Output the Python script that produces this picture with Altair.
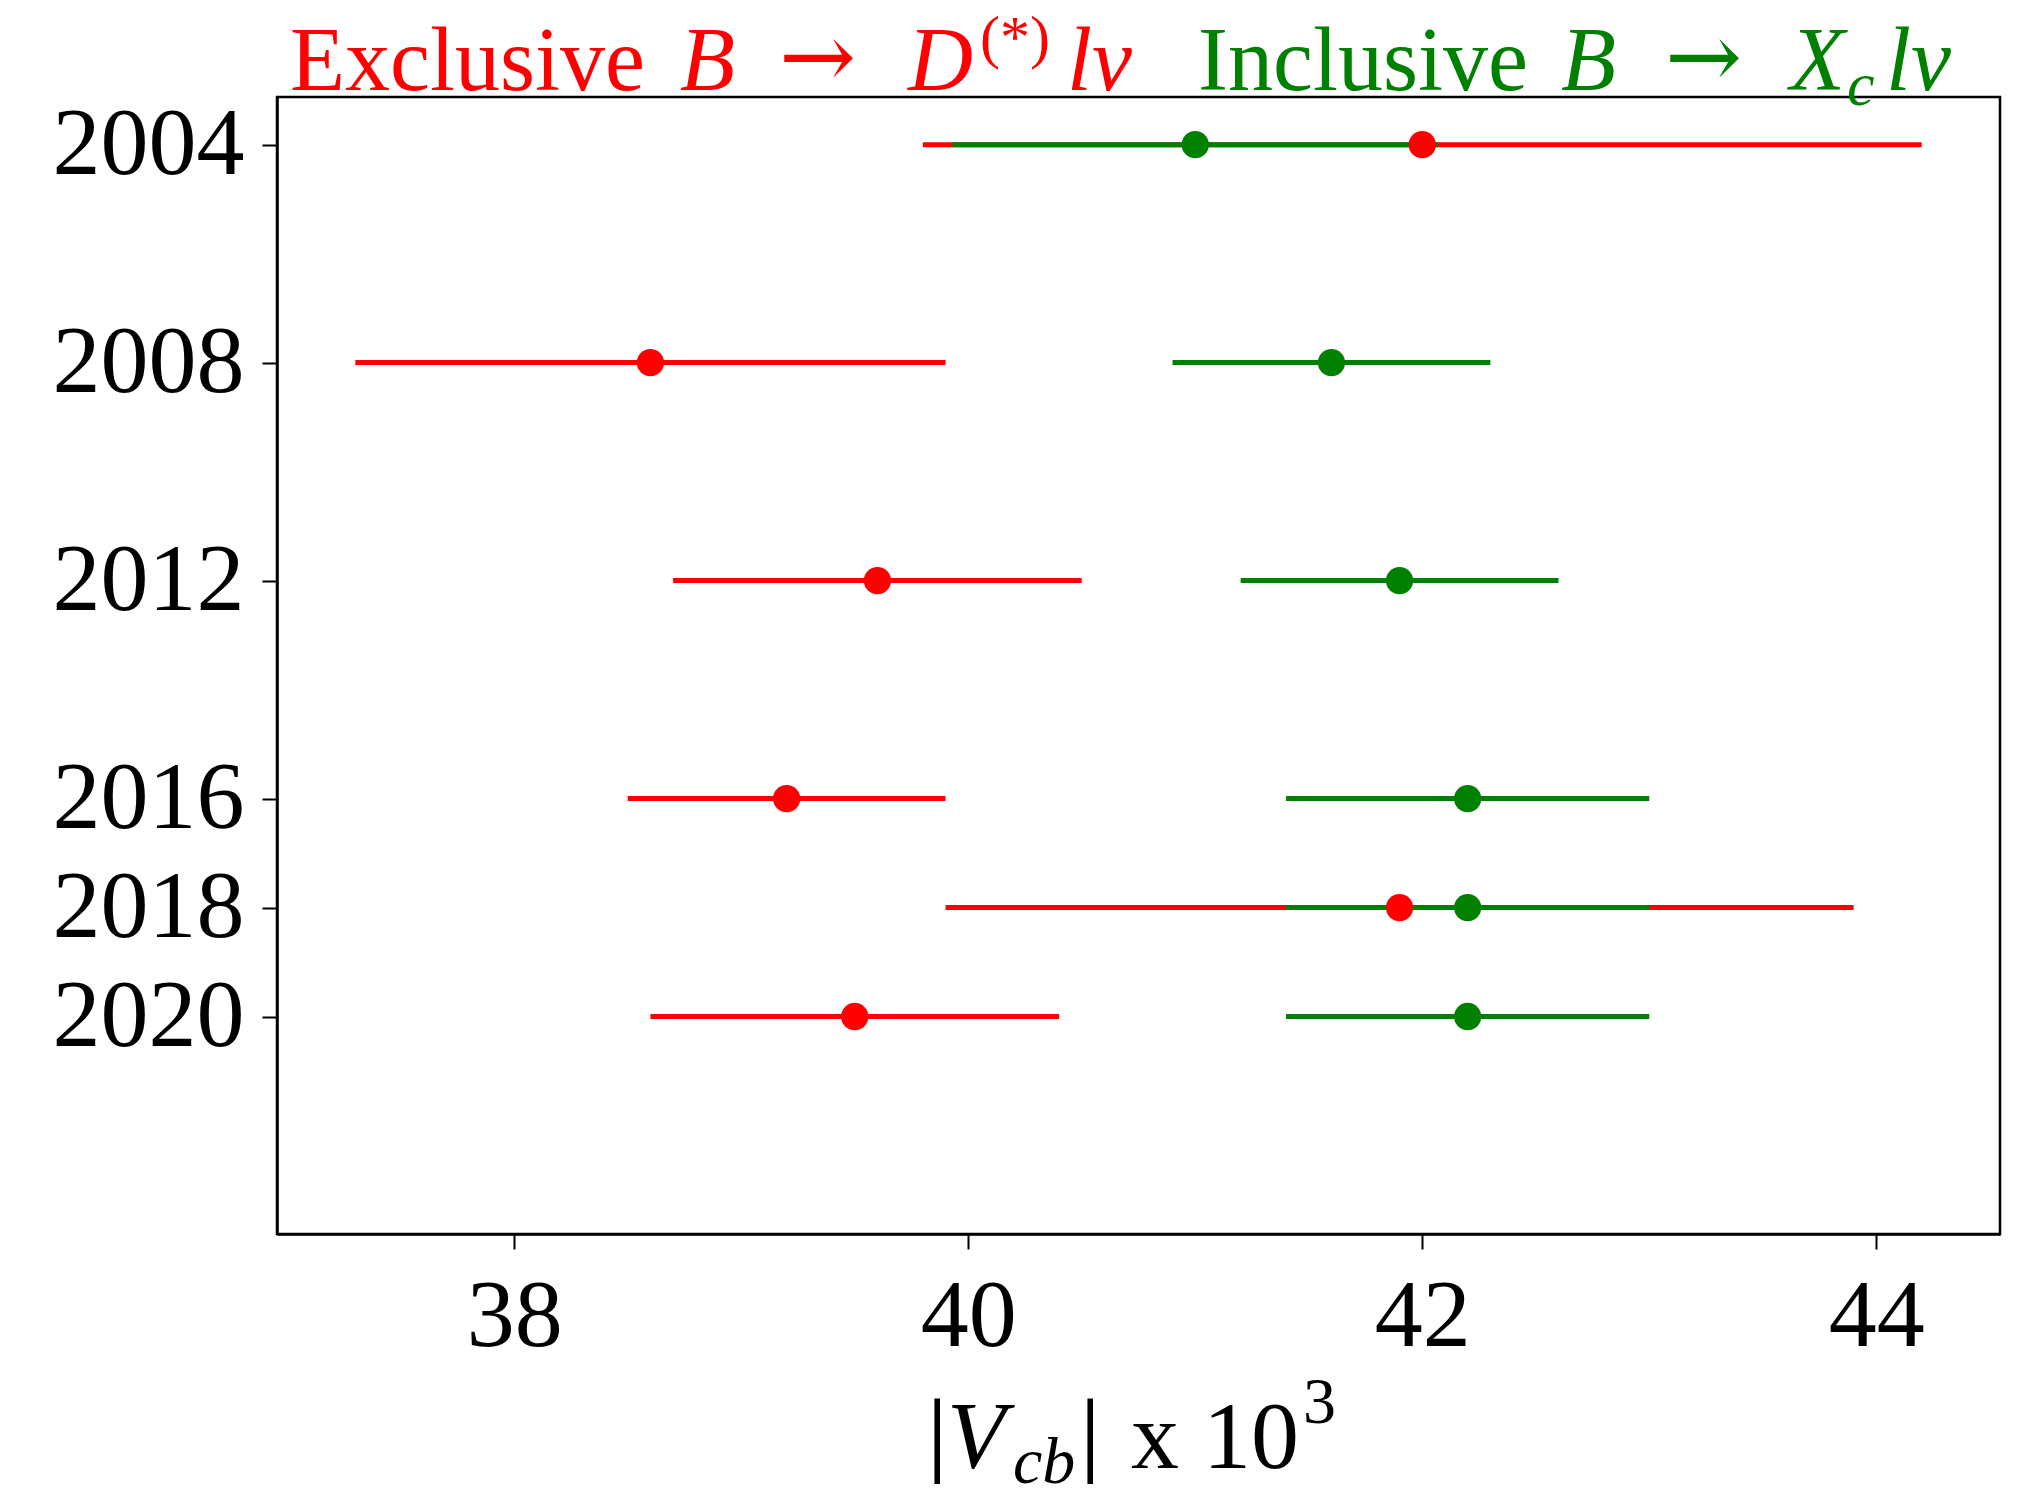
import altair as alt
import pandas as pd

# ---- data ----
years = [2004, 2008, 2012, 2016, 2018, 2020]
excl_val = [42.0, 38.6, 39.6, 39.2, 41.9, 39.5]
excl_lo = [39.8, 37.3, 38.7, 38.5, 39.9, 38.6]
excl_hi = [44.2, 39.9, 40.5, 39.9, 43.9, 40.4]
incl_val = [41.0, 41.6, 41.9, 42.2, 42.2, 42.2]
incl_lo = [39.93, 40.9, 41.2, 41.4, 41.4, 41.4]
incl_hi = [42.07, 42.3, 42.6, 43.0, 43.0, 43.0]
x_ticks = [38, 40, 42, 44]

RED = "#ff0000"
GREEN = "#008000"
FONT = "Liberation Serif"
ARROW_FONT = "DejaVu Serif"

excl = pd.DataFrame({"year": years, "v": excl_val, "lo": excl_lo, "hi": excl_hi})
incl = pd.DataFrame({"year": years, "v": incl_val, "lo": incl_lo, "hi": incl_hi})

xscale = alt.Scale(domain=[36.955, 44.545], nice=False, zero=False)
yscale = alt.Scale(domain=[2003.126, 2023.99], nice=False, zero=False, reverse=True)

xaxis = alt.Axis(values=x_ticks, format="d", title=None, labelFlush=False, labelPadding=20)
yaxis = alt.Axis(values=years, format="d", title=None, labelPadding=18, labelLimit=0)


def rules(df, color):
    return alt.Chart(df).mark_rule(color=color, strokeWidth=5).encode(
        x=alt.X("lo:Q", scale=xscale, axis=xaxis),
        x2="hi:Q",
        y=alt.Y("year:Q", scale=yscale, axis=yaxis),
    )


def points(df, color):
    return alt.Chart(df).mark_circle(color=color, size=750, opacity=1).encode(
        x=alt.X("v:Q", scale=xscale, axis=xaxis),
        y=alt.Y("year:Q", scale=yscale, axis=yaxis),
    )


# ---- title and axis-title text pieces (text, x, y, size, italic, color, font) ----
title_parts = [
    ("Exclusive", 13, -7, 90, False, RED, FONT),
    ("B", 403, -7, 90, True, RED, FONT),
    ("→", 502, -9, 92, False, RED, ARROW_FONT),
    ("D", 631, -7, 90, True, RED, FONT),
    ("(*)", 703, -40, 60, False, RED, FONT),
    ("lν", 790, -7, 90, True, RED, FONT),
    ("Inclusive", 921, -7, 90, False, GREEN, FONT),
    ("B", 1284, -7, 90, True, GREEN, FONT),
    ("→", 1388, -9, 92, False, GREEN, ARROW_FONT),
    ("X", 1513, -7, 90, True, GREEN, FONT),
    ("c", 1570, 8, 62, True, GREEN, FONT),
    ("lν", 1609, -7, 90, True, GREEN, FONT),
]
xtitle_parts = [
    ("|", 649, 1380, 112, False, "black", FONT),
    ("V", 670, 1371, 96, True, "black", FONT),
    ("cb", 736, 1386, 66, True, "black", FONT),
    ("|", 802, 1380, 112, False, "black", FONT),
    ("x 10", 854, 1371, 96, False, "black", FONT),
    ("3", 1026, 1326, 66, False, "black", FONT),
]


def text_piece(t, x, y, size, italic, color, font):
    return alt.Chart(alt.Data(values=[{"t": t}])).mark_text(
        align="left", baseline="alphabetic", font=font, fontSize=size,
        fontStyle="italic" if italic else "normal", color=color,
    ).encode(text="t:N", x=alt.value(x), y=alt.value(y))


layers = [rules(excl, RED), rules(incl, GREEN), points(excl, RED), points(incl, GREEN)]
layers += [text_piece(*p) for p in title_parts]
layers += [text_piece(*p) for p in xtitle_parts]

chart = alt.layer(*layers).properties(
    width=1723,
    height=1137,
    autosize=alt.AutoSizeParams(type="none"),
    padding={"left": 269, "top": 89, "right": 11, "bottom": 250},
).configure_view(
    stroke="black", strokeWidth=2.5
).configure_axis(
    grid=False,
    domainColor="black", domainWidth=2.5,
    tickColor="black", tickWidth=2, tickSize=15,
    labelFont=FONT, labelFontSize=96, labelColor="black",
)

chart.save("out.html", embed_options={"renderer": "svg", "actions": False})
